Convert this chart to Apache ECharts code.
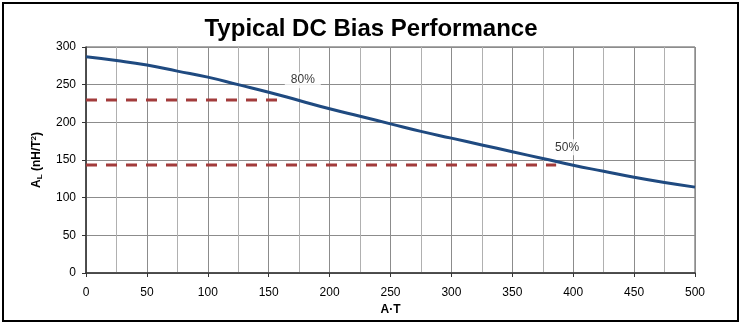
<!DOCTYPE html>
<html><head><meta charset="utf-8">
<script src="https://cdn.jsdelivr.net/npm/echarts@6/dist/echarts.min.js"></script>
<style>html,body{margin:0;padding:0;background:#fff}#c{width:742px;height:326px}</style>
</head><body><div id="c"></div>
<script>
const xValues = [0,25,50,75,100,125,150,175,200,225,250,275,300,325,350,375,400,425,450,475,500];
const alValues = [287,282,276,268,260,250,240,229,218,208,198,188,179,170,161,152,143,135,127,120,114];
const line80 = [[0,229.6],[162,229.6]];
const line50 = [[0,143.5],[386,143.5]];
const pctLabels = [{text:'80%', x:178, y:256},{text:'50%', x:395, y:167}];

const chart = echarts.init(document.getElementById('c'));
const font = '"Liberation Sans", Arial, sans-serif';
chart.setOption({
  animation:false,
  title:{text:'Typical DC Bias Performance', left:'center', top:12,
    textStyle:{fontFamily:font, fontWeight:'bold', fontSize:24, color:'#000'}},
  grid:{left:86, right:47, top:47, bottom:53, show:true, borderColor:'#555', borderWidth:1},
  graphic:[{type:'rect', shape:{x:3,y:3,width:735,height:318}, style:{fill:'none', stroke:'#000', lineWidth:2}, silent:true}],
  xAxis:{type:'value', min:0, max:500, interval:50,
    name:'A·T', nameLocation:'middle', nameGap:24,
    nameTextStyle:{fontFamily:font, fontWeight:'bold', fontSize:12, color:'#000'},
    axisLine:{lineStyle:{color:'#333', width:1.5}},
    axisTick:{show:true, length:4, lineStyle:{color:'#333'}},
    axisLabel:{fontFamily:font, fontSize:12, color:'#000', margin:14},
    splitLine:{show:true, lineStyle:{color:'#8c8c8c', width:1}},
    minorTick:{show:false, splitNumber:2},
    minorSplitLine:{show:true, lineStyle:{color:'#b0b0b0', width:1}}},
  yAxis:{type:'value', min:0, max:300, interval:50,
    name:'{b|A}{s|L}{b| (nH/T}{p|2}{b|)}', nameLocation:'middle', nameGap:42,
    nameTextStyle:{rich:{
      b:{fontFamily:font, fontWeight:'bold', fontSize:12, color:'#000', verticalAlign:'middle'},
      s:{fontFamily:font, fontWeight:'bold', fontSize:8, color:'#000', verticalAlign:'bottom', padding:[6,0,0,0]},
      p:{fontFamily:font, fontWeight:'bold', fontSize:8, color:'#000', verticalAlign:'top', padding:[0,0,6,0]}}},
    axisLine:{show:true, lineStyle:{color:'#333', width:1.5}},
    axisTick:{show:true, length:4, lineStyle:{color:'#333'}},
    axisLabel:{fontFamily:font, fontSize:12, color:'#000', margin:10},
    splitLine:{show:true, lineStyle:{color:'#8c8c8c', width:1}}},
  series:[
    {type:'line', data:line80, symbol:'none', lineStyle:{color:'#a23b3b', width:3, type:[11,9]}, z:2},
    {type:'line', data:line50, symbol:'none', lineStyle:{color:'#a23b3b', width:3, type:[11,9]}, z:2},
    {type:'line', data:xValues.map((x,i)=>[x,alValues[i]]), symbol:'none', smooth:0.5,
      lineStyle:{color:'#1f4a80', width:3}, z:3},
    {type:'scatter', data:pctLabels.map(d=>({value:[d.x,d.y], name:d.text})), symbolSize:0, z:4,
      label:{show:true, position:'inside', formatter:p=>p.name, fontFamily:font, fontSize:12, color:'#000',
        backgroundColor:'#fff', padding:[2,6]}}
  ]
});
</script></body></html>
